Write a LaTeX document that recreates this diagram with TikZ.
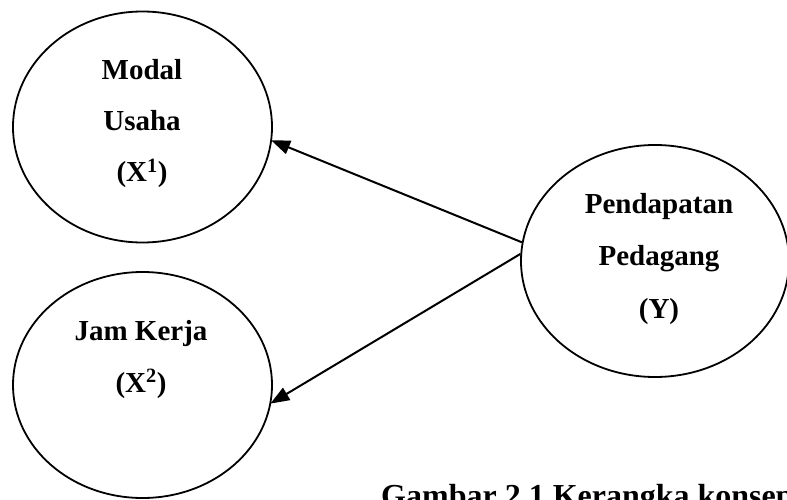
\documentclass[tikz,border=0pt]{standalone}
\usepackage{fontspec}
\setmainfont{Liberation Serif}
\usetikzlibrary{shapes.geometric,arrows.meta}
\tikzset{
  oval/.style={draw, ellipse, line width=1.8pt, inner sep=0pt},
  lbl/.style={anchor=base, inner sep=0pt, font=\fontsize{29}{34}\selectfont\bfseries},
  arr/.style={line width=2pt, -{Triangle[length=19pt,width=14pt]}, shorten >=-1pt}
}
\begin{document}
\begin{tikzpicture}[x=1pt,y=-1pt]
\useasboundingbox (0,0) rectangle (787,500);
\clip (0,0) rectangle (787,500);
\fill[white] (0,0) rectangle (787,500);
\node[oval, minimum width=259pt, minimum height=231pt] (A) at (142.5,127) {};
\node[oval, minimum width=259pt, minimum height=226pt] (B) at (142.5,385) {};
\node[oval, minimum width=268pt, minimum height=232pt] (Y) at (655,261) {};
\node[lbl] (a1) at (142,80) {Modal};
\node[lbl] (a2) at (142,131) {Usaha};
\node[lbl] (a3) at (142,182) {(X\textsuperscript{1})};
\node[lbl] (b1) at (141,340) {Jam Kerja};
\node[lbl] (b2) at (141,392) {(X\textsuperscript{2})};
\node[lbl] (y1) at (659,213) {Pendapatan};
\node[lbl] (y2) at (659,265) {Pedagang};
\node[lbl] (y3) at (659,318) {(Y)};
\node[lbl, anchor=base west, font=\fontsize{32}{38}\selectfont\bfseries] (cap) at (381,506) {Gambar 2.1 Kerangka konsep};
\draw[arr] (Y.172) -- (A.-6);
\draw[arr] (Y.177) -- (B.-8);
\end{tikzpicture}
\end{document}
